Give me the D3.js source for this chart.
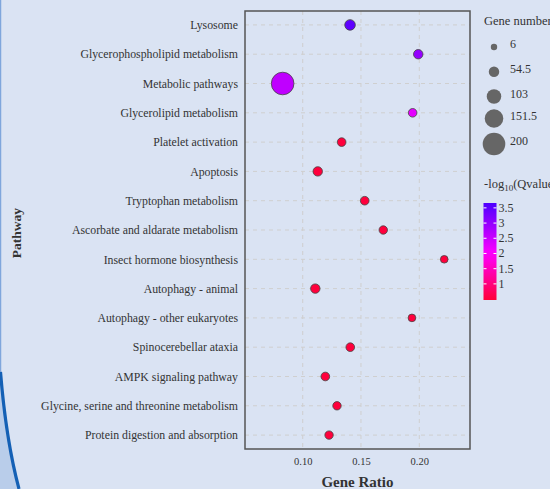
<!DOCTYPE html>
<html>
<head>
<meta charset="utf-8">
<script src="https://cdn.jsdelivr.net/npm/d3@7"></script>
<style>
  html, body { margin: 0; padding: 0; background: #dae3f3; }
  svg { display: block; font-family: "Liberation Serif", "Times New Roman", serif; }
</style>
</head>
<body>
<svg width="550" height="489"></svg>
<script>
const pathways = [
  "Lysosome", "Glycerophospholipid metabolism", "Metabolic pathways",
  "Glycerolipid metabolism", "Platelet activation", "Apoptosis",
  "Tryptophan metabolism", "Ascorbate and aldarate metabolism",
  "Insect hormone biosynthesis", "Autophagy - animal",
  "Autophagy - other eukaryotes", "Spinocerebellar ataxia",
  "AMPK signaling pathway", "Glycine, serine and threonine metabolism",
  "Protein digestion and absorption"
];
const geneRatio = [0.1406, 0.1991, 0.0828, 0.1943, 0.1334, 0.1129, 0.1532, 0.1691,
  0.2214, 0.1108, 0.1937, 0.1408, 0.1194, 0.1294, 0.1226];
const geneNumber = [56, 42, 200, 32, 33, 42, 33, 30, 21, 42, 21, 33, 33, 30, 30];
const negLogQ = [3.5, 3.0, 2.6, 2.25, 0.5, 0.5, 0.5, 0.5, 0.5, 0.5, 0.5, 0.5, 0.5, 0.5, 0.5];

const xTicks = [0.10, 0.15, 0.20];
const sizeBreaks = [6, 54.5, 103, 151.5, 200];
const colorBreaks = [1, 1.5, 2, 2.5, 3, 3.5];

const data = pathways.map((p, i) => ({
  pathway: p, ratio: geneRatio[i], count: geneNumber[i], q: negLogQ[i]
}));

const svg = d3.select('svg');
const width = +svg.attr('width');
const height = +svg.attr('height');
const margin = { top: 11, right: 80, bottom: 40, left: 245 };
const innerWidth = width - margin.left - margin.right;
const innerHeight = height - margin.top - margin.bottom;
const serif = '"Liberation Serif", "Times New Roman", serif';

// left decoration (edge of a slide shape)
svg.append('path')
  .attr('d', 'M0 372 Q 6 440 19 489 L 0 489 Z')
  .attr('fill', '#b9cdea');
svg.append('line')
  .attr('x1', 0.5).attr('x2', 0.5).attr('y1', 0).attr('y2', 372)
  .attr('stroke', '#7fa6dc').attr('stroke-width', 1.5);
svg.append('path')
  .attr('d', 'M0.5 372 Q 6 440 19 489')
  .attr('fill', 'none')
  .attr('stroke', '#1460b5').attr('stroke-width', 3.2);

const xScale = d3.scaleLinear().domain([0.0505, 0.2435]).range([0, innerWidth]);
const yScale = d3.scalePoint().domain(pathways).range([0, innerHeight]).padding(0.475);
const rScale = d3.scaleLinear().domain([6, 200]).range([3.2, 11.3]);
const colorScale = d3.scaleLinear().domain([0.47, 2.0, 3.66])
  .range(['#ff0038', '#ff00ff', '#4d00ff']);

const g = svg.append('g').attr('transform', `translate(${margin.left},${margin.top})`);

// grid
g.append('g').selectAll('line').data(xTicks).enter().append('line')
  .attr('x1', d => xScale(d)).attr('x2', d => xScale(d))
  .attr('y1', 0).attr('y2', innerHeight)
  .attr('stroke', '#cfcfcf').attr('stroke-dasharray', '4,4');
g.append('g').selectAll('line').data(pathways).enter().append('line')
  .attr('x1', 0).attr('x2', innerWidth)
  .attr('y1', d => yScale(d)).attr('y2', d => yScale(d))
  .attr('stroke', '#cfcfcf').attr('stroke-dasharray', '4,4');

// axes
const yAxisG = g.append('g').call(d3.axisLeft(yScale).tickSize(0).tickPadding(7));
yAxisG.attr('font-family', serif);
yAxisG.select('.domain').remove();
yAxisG.selectAll('text').attr('fill', '#333').style('font-size', '11.8px');

const xAxisG = g.append('g').attr('transform', `translate(0,${innerHeight})`)
  .call(d3.axisBottom(xScale).tickValues(xTicks).tickFormat(d3.format('.2f')).tickSize(0).tickPadding(9));
xAxisG.attr('font-family', serif);
xAxisG.select('.domain').remove();
xAxisG.selectAll('text').attr('fill', '#333').style('font-size', '10.5px');

// frame
g.append('rect').attr('width', innerWidth).attr('height', innerHeight)
  .attr('fill', 'none').attr('stroke', '#555').attr('stroke-width', 1.5);

// points
g.selectAll('circle.pt').data(data).enter().append('circle')
  .attr('class', 'pt')
  .attr('cx', d => xScale(d.ratio))
  .attr('cy', d => yScale(d.pathway))
  .attr('r', d => rScale(d.count))
  .attr('fill', d => colorScale(d.q))
  .attr('stroke', '#444').attr('stroke-width', 0.8);

// axis titles
g.append('text')
  .attr('x', innerWidth / 2).attr('y', innerHeight + 38)
  .attr('text-anchor', 'middle').attr('fill', '#333')
  .style('font-size', '15px').style('font-weight', 'bold')
  .text('Gene Ratio');
g.append('text')
  .attr('transform', `translate(${21 - margin.left},${innerHeight / 2 + 3}) rotate(-90)`)
  .attr('text-anchor', 'middle').attr('fill', '#333')
  .style('font-size', '13.5px').style('font-weight', 'bold')
  .text('Pathway');

// size legend
const lx = 484;
svg.append('text').attr('x', lx).attr('y', 25).attr('fill', '#333')
  .style('font-size', '12.5px').text('Gene number');
const sizeY = [47, 71.7, 96.5, 118.5, 144];
const sl = svg.append('g').selectAll('g').data(sizeBreaks).enter().append('g');
sl.append('circle')
  .attr('cx', 494).attr('cy', (d, i) => sizeY[i])
  .attr('r', d => rScale(d)).attr('fill', '#666');
sl.append('text')
  .attr('x', 510).attr('y', (d, i) => sizeY[i] + 1)
  .attr('fill', '#333').style('font-size', '12px')
  .text(d => d);

// colour legend
const ct = svg.append('text').attr('x', lx).attr('y', 188).attr('fill', '#333')
  .style('font-size', '12.5px');
ct.append('tspan').text('-log');
ct.append('tspan').attr('dy', 3).style('font-size', '9px').text('10');
ct.append('tspan').attr('dy', -3).text('(Qvalue)');

const barX = 483.5, barW = 13, barTop = 203, barBottom = 300;
const cbScale = d3.scaleLinear().domain([0.47, 3.66]).range([barBottom, barTop]);
const defs = svg.append('defs');
const grad = defs.append('linearGradient').attr('id', 'cb')
  .attr('x1', 0).attr('y1', 1).attr('x2', 0).attr('y2', 0);
d3.range(0, 1.0001, 0.1).forEach(t => {
  grad.append('stop').attr('offset', t)
    .attr('stop-color', colorScale(0.47 + t * (3.66 - 0.47)));
});
svg.append('rect').attr('x', barX).attr('y', barTop)
  .attr('width', barW).attr('height', barBottom - barTop)
  .attr('fill', 'url(#cb)');
const cl = svg.append('g').selectAll('g').data(colorBreaks).enter().append('g');
cl.append('line').attr('x1', barX).attr('x2', barX + 3)
  .attr('y1', d => cbScale(d)).attr('y2', d => cbScale(d))
  .attr('stroke', '#fff').attr('stroke-width', 1);
cl.append('line').attr('x1', barX + barW - 3).attr('x2', barX + barW)
  .attr('y1', d => cbScale(d)).attr('y2', d => cbScale(d))
  .attr('stroke', '#fff').attr('stroke-width', 1);
cl.append('text').attr('x', barX + barW + 2).attr('y', d => cbScale(d) + 4)
  .attr('fill', '#333').style('font-size', '12px')
  .text(d => d);
</script>
</body>
</html>
